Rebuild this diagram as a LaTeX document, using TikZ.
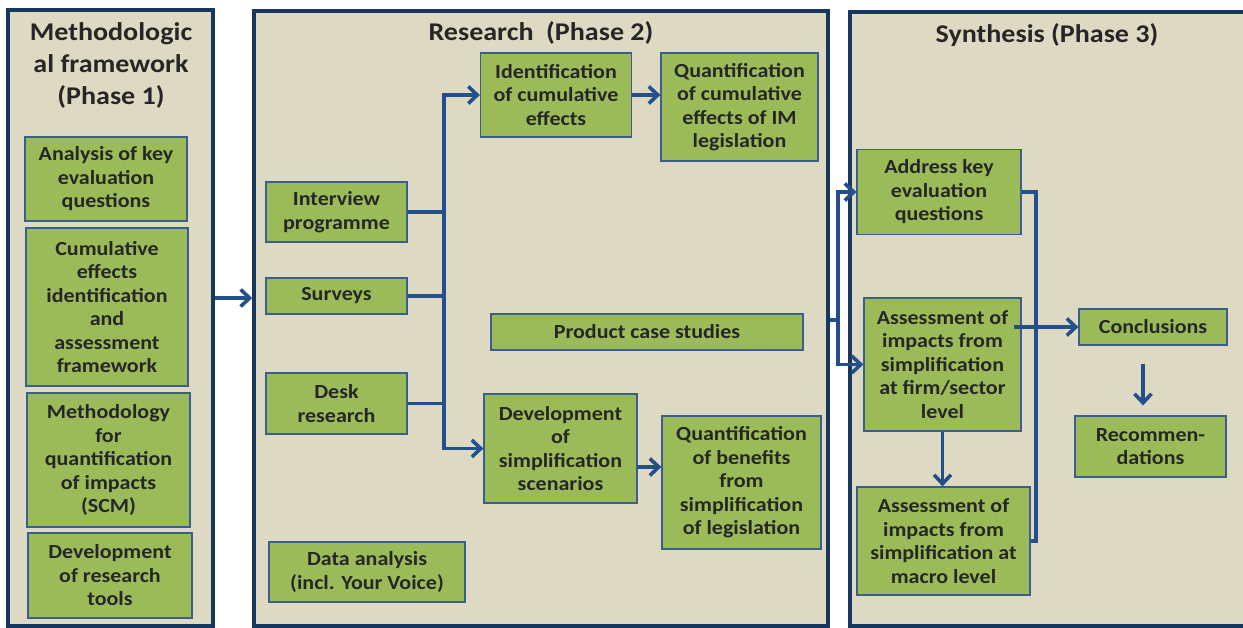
\documentclass[tikz,border=0pt]{standalone}
\usepackage{fontspec}
\setmainfont{Carlito}
\newfontfamily\widefont{Carlito}[FakeStretch=1.1]
\usetikzlibrary{arrows.meta}
\usetikzlibrary{positioning}
\definecolor{panelfill}{HTML}{DDD9C3}
\definecolor{panelline}{HTML}{17375E}
\definecolor{boxfill}{HTML}{9BBB59}
\definecolor{boxline}{HTML}{3A5F8F}
\definecolor{linkblue}{HTML}{23508A}
\definecolor{inkgrey}{HTML}{262626}

\begin{document}
\begin{tikzpicture}[x=1pt,y=-1pt,
  phase/.style 2 args={rectangle, draw=panelline, fill=panelfill, line width=3.5pt, minimum width=#1pt, minimum height=#2pt, inner sep=0pt},
  gbox/.style 2 args={rectangle, draw=boxline, fill=boxfill, line width=1.2pt, minimum width=#1pt, minimum height=#2pt, align=center, inner sep=0pt, text=inkgrey, font=\widefont\fontsize{20}{23.5}\selectfont\bfseries},
  title/.style={align=center, text=inkgrey, font=\widefont\fontsize{25.5}{32}\selectfont\bfseries},
  link/.style={draw=linkblue, line width=3.6pt},
  >={Straight Barb[length=9pt,width=17pt]}]
  \useasboundingbox (0,0) rectangle (1243,628);

  %% phase panels
  \node[phase={205}{616}] (p1) at (110.5,318) {};
  \node[phase={574}{615}] (p2) at (541,318.5) {};
  \node[phase={412}{614}] (p3) at (1056,319) {};

  \node[title] (t1) at (111,65) {Methodologic\\al framework\\(Phase 1)};
  \node[title] (t2) at (541,33) {Research\ \ (Phase 2)};
  \node[title] (t3) at (1047,35) {Synthesis (Phase 3)};

  %% phase 1
  \node[gbox={162}{84}] (akq1) at (106,179) {Analysis of key\\evaluation\\questions};
  \node[gbox={162}{158}] (cef) at (107,307) {Cumulative\\effects\\identification\\and\\assessment\\framework};
  \node[gbox={163}{134}] (mqi) at (108.5,460) {Methodology\\for\\quantification\\of impacts\\(SCM)};
  \node[gbox={164}{85}] (drt) at (110,575.5) {Development\\of research\\tools};

  %% phase 2
  \node[gbox={141}{60}] (ip) at (336.5,212) {Interview\\programme};
  \node[gbox={141}{36}] (sv) at (336.5,296) {Surveys};
  \node[gbox={141}{61}] (dr) at (336.5,403.5) {Desk\\research};
  \node[gbox={196}{60}] (da) at (367,572) {Data analysis\\(incl. Your Voice)};
  \node[gbox={151}{84}] (ice) at (556,95) {Identification\\of cumulative\\effects};
  \node[gbox={157}{108}] (qce) at (739.5,107) {Quantification\\of cumulative\\effects of IM\\legislation};
  \node[gbox={312}{36}] (pcs) at (647,332) {Product case studies};
  \node[gbox={153}{109}] (dss) at (560.5,448.5) {Development\\of\\simplification\\scenarios};
  \node[gbox={159}{133}] (qbs) at (741.5,482.5) {Quantification\\of benefits\\from\\simplification\\of legislation};

  %% phase 3
  \node[gbox={164}{85}] (akq) at (939,192) {Address key\\evaluation\\questions};
  \node[gbox={157}{133}] (afs) at (942.5,364.5) {Assessment of\\impacts from\\simplification\\at firm/sector\\level};
  \node[gbox={173}{108}] (aml) at (943.5,541) {Assessment of\\impacts from\\simplification at\\macro level};
  \node[gbox={148}{36}] (con) at (1153,327) {Conclusions};
  \node[gbox={151}{61}] (rec) at (1150.5,446.5) {Recommen-\\dations};

  %% helper points
  \coordinate (m12) at (0,298);
  \coordinate (bus) at (444,0);
  \coordinate (dq) at (637,467);
  \coordinate (j23) at (838,320);
  \coordinate (brk) at (1036,0);

  %% connectors
  \draw[link,->] (p1.east |- m12) -- (p2.west |- m12);

  \foreach \src in {ip,sv,dr}
    \draw[link] (\src.east) -- (\src.east -| bus);
  \draw[link,->] (dr.east -| bus) |- (ice.west);
  \draw[link,->] (dr.east -| bus) |- (dss.west);
  \draw[link,->] (ice.east) -- (ice.east -| qce.west);
  \draw[link,->] (dq) -- (dq -| qbs.west);

  \draw[link] (p2.east |- j23) -- (j23);
  \draw[link,->] (j23) |- (akq.west);
  \draw[link,->] (j23) |- (afs.west);

  \draw[link] (akq.east) -- (akq.east -| brk) -- (aml.east -| brk) -- (aml.east);
  \draw[link,->] ([xshift=-8pt]afs.east |- con.west) -- (con.west);
  \draw[link,->] (afs.south) -- (afs.south |- aml.north);
  \draw[link,->, shorten <=18pt, shorten >=10pt] ([xshift=-10pt]con.south) -- ([xshift=-7.5pt]rec.north);
\end{tikzpicture}
\end{document}
